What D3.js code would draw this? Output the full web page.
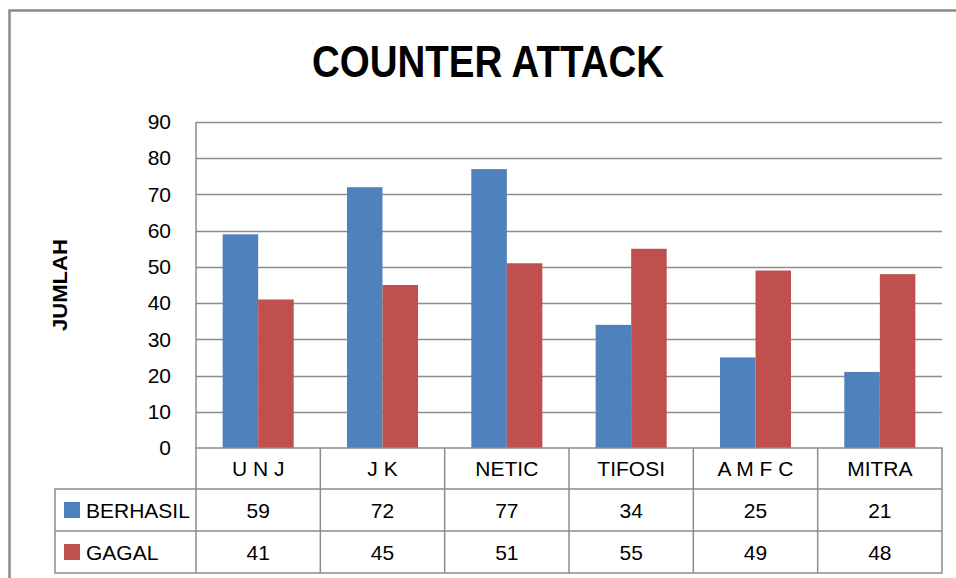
<!DOCTYPE html>
<html>
<head>
<meta charset="utf-8">
<script src="https://cdn.jsdelivr.net/npm/d3@7"></script>
<style>
  body { margin: 0; background: #fff; }
  svg { display: block; font-family: "Liberation Sans", Arial, sans-serif; }
</style>
</head>
<body>
<svg id="root"></svg>
<script>
var categories = ['U N J', 'J K', 'NETIC', 'TIFOSI', 'A M F C', 'MITRA'];
var seriesNames = ['BERHASIL', 'GAGAL'];
var berhasil = [59, 72, 77, 34, 25, 21];
var gagal = [41, 45, 51, 55, 49, 48];
var yTicks = [0, 10, 20, 30, 40, 50, 60, 70, 80, 90];
var colors = ['#4f81bd', '#c0504d'];

var width = 956,
    height = 578,
    plotL = 196, plotR = 942, plotT = 122, plotB = 448,
    rowH = [41, 42, 42],
    lineCol = '#8c8c8c';

var root = d3.select('#root')
    .attr('width', width)
    .attr('height', height);

var series = [berhasil, gagal];

// outer chart border
root.append('path')
    .attr('d', 'M9.5,' + height + 'V10.5H' + width)
    .attr('fill', 'none')
    .attr('stroke', '#8a8a8a')
    .attr('stroke-width', 2.5);

root.append('text')
    .attr('x', 488)
    .attr('y', 77)
    .attr('text-anchor', 'middle')
    .attr('font-size', 44)
    .attr('font-weight', 'bold')
    .attr('textLength', 352)
    .attr('lengthAdjust', 'spacingAndGlyphs')
    .text('COUNTER ATTACK');

var y = d3.scaleLinear().domain([0, 90]).range([plotB, plotT]);
var x0 = d3.scaleBand().domain(categories).range([plotL, plotR]);
var x1 = d3.scaleBand().domain(seriesNames).range([0, x0.bandwidth()])
    .paddingInner(0).paddingOuter(0.75);

// gridlines
root.append('g')
    .selectAll('line')
    .data(yTicks.slice(1))
    .enter()
        .append('line')
        .attr('x1', plotL).attr('x2', plotR)
        .attr('y1', function(d) { return Math.round(y(d)) + 0.5; })
        .attr('y2', function(d) { return Math.round(y(d)) + 0.5; })
        .attr('stroke', lineCol)
        .attr('stroke-width', 1.5);

// y axis
var yAxis = root.append('g')
    .attr('transform', 'translate(' + plotL + ',0)')
    .call(d3.axisLeft(y).tickValues(yTicks).tickSize(0).tickPadding(25));
yAxis.select('.domain').remove();
yAxis.selectAll('text')
    .attr('font-size', 21)
    .attr('font-family', '"Liberation Sans", Arial, sans-serif')
    .attr('fill', '#000');

root.append('text')
    .attr('transform', 'translate(67,285) rotate(-90)')
    .attr('text-anchor', 'middle')
    .attr('font-size', 20)
    .attr('font-weight', 'bold')
    .attr('textLength', 92)
    .attr('lengthAdjust', 'spacingAndGlyphs')
    .text('JUMLAH');

// bars
var groups = root.selectAll('.grp')
    .data(categories)
    .enter()
        .append('g')
        .attr('class', 'grp')
        .attr('transform', function(d) { return 'translate(' + x0(d) + ',0)'; });

groups.selectAll('rect')
    .data(function(d, i) {
        return seriesNames.map(function(s, j) {
            return { name: s, value: series[j][i], color: colors[j] };
        });
    })
    .enter()
        .append('rect')
        .attr('x', function(d) { return x1(d.name); })
        .attr('y', function(d) { return y(d.value); })
        .attr('width', x1.bandwidth())
        .attr('height', function(d) { return y(0) - y(d.value); })
        .attr('fill', function(d) { return d.color; });

// data table
var tbl = root.append('g')
    .attr('fill', 'none')
    .attr('stroke', lineCol)
    .attr('stroke-width', 1.5);

var r0 = plotB, r1 = r0 + rowH[0], r2 = r1 + rowH[1], r3 = r2 + rowH[2];
var tableLeft = 55;

tbl.append('path')
    .attr('d', 'M' + plotL + ',' + plotT + 'V' + r3 +
        'M' + plotL + ',' + r0 + 'H' + plotR + 'V' + r3 + 'H' + tableLeft + 'V' + r1 + 'H' + plotR +
        'M' + tableLeft + ',' + r2 + 'H' + plotR);

tbl.selectAll('line.div')
    .data(categories.slice(1))
    .enter()
        .append('line')
        .attr('class', 'div')
        .attr('x1', function(d) { return x0(d); })
        .attr('x2', function(d) { return x0(d); })
        .attr('y1', r0).attr('y2', r3);

root.selectAll('.cat')
    .data(categories)
    .enter()
        .append('text')
        .attr('class', 'cat')
        .attr('x', function(d) { return x0(d) + x0.bandwidth() / 2; })
        .attr('y', (r0 + r1) / 2)
        .attr('dy', '0.36em')
        .attr('text-anchor', 'middle')
        .attr('font-size', 21)
        .text(function(d) { return d; });

var rowMid = [(r1 + r2) / 2, (r2 + r3) / 2];

seriesNames.forEach(function(s, j) {
    root.append('rect')
        .attr('x', 64).attr('y', rowMid[j] - 8)
        .attr('width', 16).attr('height', 16)
        .attr('fill', colors[j]);
    root.append('text')
        .attr('x', 86).attr('y', rowMid[j])
        .attr('dy', '0.36em')
        .attr('font-size', 21)
        .text(s);
    root.selectAll('.v' + j)
        .data(series[j])
        .enter()
            .append('text')
            .attr('class', 'v' + j)
            .attr('x', function(d, i) { return x0(categories[i]) + x0.bandwidth() / 2; })
            .attr('y', rowMid[j])
            .attr('dy', '0.36em')
            .attr('text-anchor', 'middle')
            .attr('font-size', 21)
            .text(function(d) { return d; });
});
</script>
</body>
</html>
